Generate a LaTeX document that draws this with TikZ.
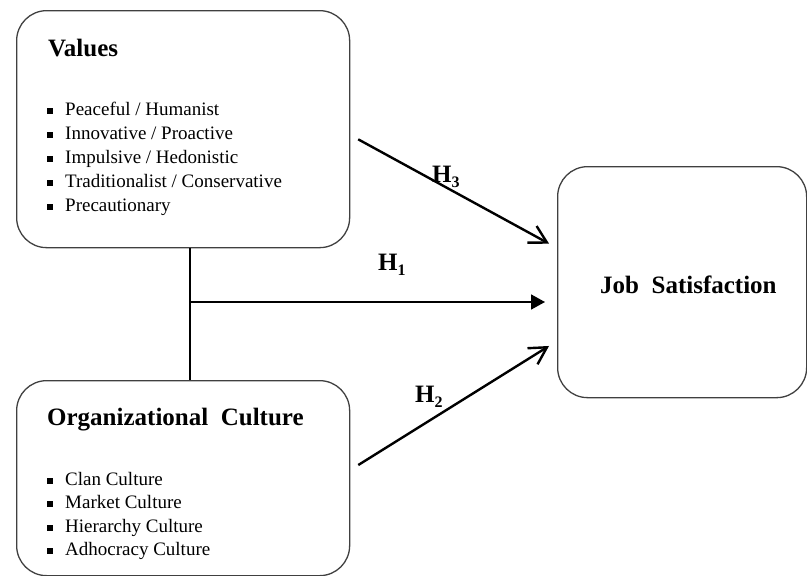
\documentclass[tikz,border=0pt]{standalone}
\usepackage{fontspec}
\setmainfont{Liberation Serif}
\usetikzlibrary{arrows.meta,calc}
\newcommand{\blt}{\makebox[18pt][l]{\rule[1.5pt]{6pt}{6pt}}}
\newcommand{\hsub}[1]{\raisebox{-5pt}{\fontsize{16}{16}\selectfont #1}}
\begin{document}
\begin{tikzpicture}[x=1pt,y=-1pt,
  box/.style={draw=black!75, line width=1.3pt, rounded corners=30pt, inner sep=0pt, anchor=north west},
  head/.style={font=\fontsize{25}{30}\selectfont\bfseries, anchor=base west, inner sep=0pt},
  item/.style={font=\fontsize{19}{24}\selectfont, anchor=base west, inner sep=0pt},
  hyp/.style={font=\fontsize{25}{30}\selectfont\bfseries, anchor=base west, inner sep=0pt},
  link/.style={line width=1.7pt},
  openarr/.style={line width=2.4pt, -{Straight Barb[length=17pt,width=19pt,line width=2.4pt]}},
  solidarr/.style={line width=1.7pt, -{Triangle[length=14pt,width=15pt]}}
]
\useasboundingbox (0,0) rectangle (807,576);

% the three boxes
\node[box, minimum width=333pt, minimum height=237pt] (values) at (16,10) {};
\node[box, minimum width=333pt, minimum height=195pt] (org) at (16,380) {};
\node[box, minimum width=249pt, minimum height=231pt] (job) at (557,166) {};

% headings
\node[head] (valuesT) at (48,56) {Values};
\node[head] (orgT) at (47,425) {Organizational\ \ Culture};
\node[head] (jobT) at (600,293) {Job\ \ Satisfaction};

% value items
\foreach \t [count=\i from 0] in {Peaceful / Humanist, Innovative / Proactive, Impulsive / Hedonistic, Traditionalist / Conservative, Precautionary}
  \node[item] (vi\i) at (47,115+24*\i) {\blt\t};

% culture items
\foreach \t [count=\i from 0] in {Clan Culture, Market Culture, Hierarchy Culture, Adhocracy Culture}
  \node[item] (ci\i) at (47,485+23.5*\i) {\blt\t};

% joint effect line
\coordinate (jn) at (190,302);
\draw[link] (values.south -| jn) -- (org.north -| jn);
\draw[solidarr, shorten >=12pt] (jn) -- (job.west |- jn);

% direct effects
\draw[openarr, shorten <=9pt, shorten >=9pt] ([yshift=-125pt]values.north east) -- ([yshift=-82pt]job.north west);
\draw[openarr, shorten <=9.4pt, shorten >=9.4pt] ([yshift=-90pt]org.north east) -- ([yshift=-175pt]job.north west);

% hypothesis labels
\node[hyp] (h3) at (432,182) {H\hsub{3}};
\node[hyp] (h1) at (378,270) {H\hsub{1}};
\node[hyp] (h2) at (415,402) {H\hsub{2}};
\end{tikzpicture}
\end{document}
